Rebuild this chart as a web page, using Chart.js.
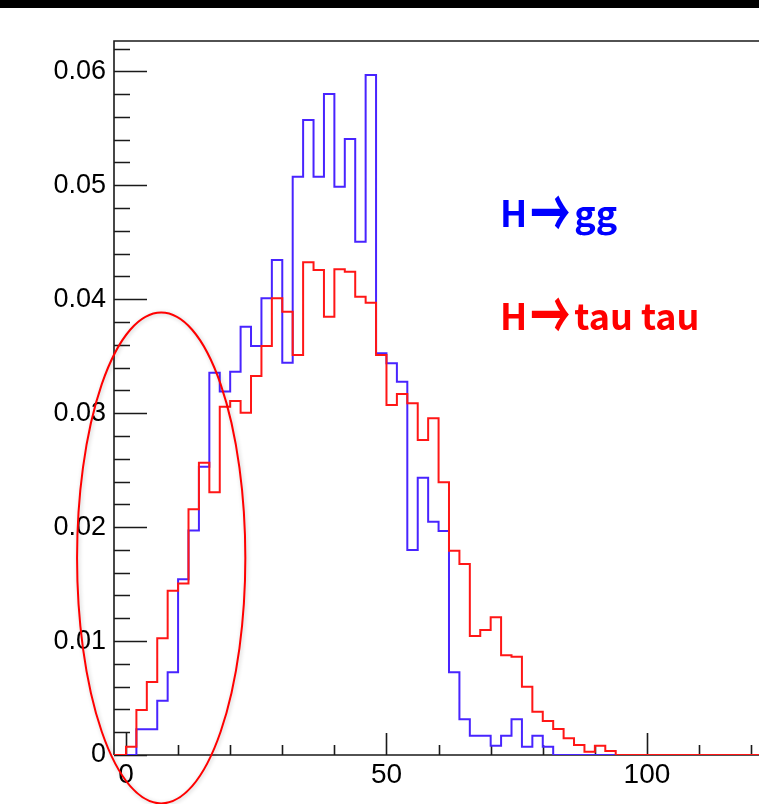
<!DOCTYPE html>
<html>
<head>
<meta charset="utf-8">
<script src="https://cdn.jsdelivr.net/npm/chart.js@4/dist/chart.umd.min.js"></script>
<style>
  html, body { margin: 0; padding: 0; background: #fff; overflow: hidden; width: 759px; height: 804px; }
  #wrap { position: relative; width: 780px; height: 804px; }
</style>
</head>
<body>
<div id="wrap"><canvas id="c" width="780" height="804"></canvas></div>
<script>
// Histogram bins (lower edges), width 2
const binLow = [0, 2, 4, 6, 8, 10, 12, 14, 16, 18, 20, 22, 24, 26, 28, 30, 32, 34, 36, 38,
                40, 42, 44, 46, 48, 50, 52, 54, 56, 58, 60, 62, 64, 66, 68, 70, 72, 74, 76, 78,
                80, 82, 84, 86, 88, 90, 92, 94];
const binWidth = 2;

// Normalised contents, H -> gg
const hGG = [0, 0.00225, 0.00225, 0.00477, 0.00726, 0.01542, 0.0197, 0.0253, 0.03355, 0.0319,
             0.03364, 0.03758, 0.03589, 0.04008, 0.04344, 0.03442, 0.05075, 0.05573, 0.05075, 0.05801,
             0.04987, 0.05406, 0.04505, 0.05968, 0.03525, 0.03437, 0.03276, 0.01799, 0.02434, 0.02047,
             0.01966, 0.00726, 0.00313, 0.0017, 0.0017, 0.00082, 0.0017, 0.00313, 0.00073, 0.0017,
             0.00073, 0, 0, 0, 0, 0, 0, 0];

// Normalised contents, H -> tau tau
const hTauTau = [0.00073, 0.00395, 0.0064, 0.01024, 0.01442, 0.01506, 0.02157, 0.02565, 0.02305, 0.03056,
                 0.03107, 0.03004, 0.03326, 0.03589, 0.04008, 0.0389, 0.0351, 0.04324, 0.04256, 0.03846,
                 0.04262, 0.04241, 0.04022, 0.03969, 0.0351, 0.03072, 0.03168, 0.03086, 0.02764, 0.02955,
                 0.02393, 0.01793, 0.01676, 0.01044, 0.01097, 0.01208, 0.00875, 0.00863, 0.006, 0.0038,
                 0.00298, 0.00228, 0.00146, 0.00088, 0.00029, 0.00082, 0.00035, 0];

const seriesNames = ['H\u2192gg', 'H\u2192tau tau'];

const xTickValues = [0, 50, 100];
const xTickLabels = ['0', '50', '100'];
const yTickValues = [0, 0.01, 0.02, 0.03, 0.04, 0.05, 0.06];
const yTickLabels = ['0', '0.01', '0.02', '0.03', '0.04', '0.05', '0.06'];

// axis ranges
const X_MIN = -2.3, X_MAX = 124.0;
const Y_MIN = 0, Y_MAX = 0.06266;

// Build step-histogram points: left edge of each bin, closed at both ends with empty range
function histPoints(values) {
  const pts = [{ x: X_MIN - 5, y: 0 }];
  binLow.forEach((lo, i) => pts.push({ x: lo, y: values[i] }));
  const end = binLow[binLow.length - 1] + binWidth;
  pts.push({ x: end, y: 0 });
  pts.push({ x: X_MAX + 10, y: 0 });
  return pts;
}

const TEXT_FONT = 'bold 36px "Noto Sans CJK JP"';
const ARROW_FONT = 'bold 40px "Noto Sans CJK JP"';
const ARROW_STRETCH = 1.75;  // taller arrow head
const ARROW_RISE = 15;       // arrow centre above the baseline

// Draw a label, giving the arrow glyph its own heavier shape
function drawLabel(ctx, text, x, y) {
  let cx = x;
  const parts = text.split(/(\u2192)/).filter(s => s.length);
  parts.forEach(p => {
    if (p === '\u2192') {
      ctx.font = ARROW_FONT;
      const m = ctx.measureText(p);
      const mid = (m.actualBoundingBoxAscent - m.actualBoundingBoxDescent) / 2;
      const inkL = -m.actualBoundingBoxLeft, inkR = m.actualBoundingBoxRight;
      cx += 4;
      ctx.save();
      ctx.translate(cx - inkL, y - ARROW_RISE);
      ctx.scale(1, ARROW_STRETCH);
      ctx.fillText(p, 0, mid);
      ctx.restore();
      cx += (inkR - inkL) + 5;
    } else {
      ctx.font = TEXT_FONT;
      ctx.fillText(p, cx, y);
      cx += ctx.measureText(p).width;
    }
  });
}

// ROOT-style frame with inward tick marks
const framePlugin = {
  id: 'rootFrame',
  beforeDraw(chart) {
    const { ctx } = chart;
    ctx.save();
    ctx.fillStyle = '#ffffff';
    ctx.fillRect(0, 0, chart.width, chart.height);
    ctx.fillStyle = '#000000';
    ctx.fillRect(0, 0, chart.width, 8);
    ctx.restore();
  },
  beforeDatasetsDraw(chart) {
    const { ctx, chartArea: a, scales } = chart;
    const xs = scales.x, ys = scales.y;
    ctx.save();
    ctx.strokeStyle = '#1a1a1a';
    ctx.lineWidth = 1.6;
    ctx.beginPath();
    ctx.moveTo(a.left, a.bottom);
    ctx.lineTo(a.left, a.top);
    ctx.lineTo(a.right, a.top);
    ctx.lineTo(a.right, a.bottom);
    ctx.moveTo(a.left, a.bottom);
    ctx.lineTo(a.right, a.bottom);
    // y ticks: major every 0.01, minor every 0.002
    for (let k = 0; k <= 31; k++) {
      const v = k * 0.002;
      if (v > Y_MAX) break;
      const py = Math.round(ys.getPixelForValue(v)) + 0.5;
      const len = (k % 5 === 0) ? 33 : 16;
      ctx.moveTo(a.left, py);
      ctx.lineTo(a.left + len, py);
    }
    // x ticks: major every 50, minor every 10
    for (let k = 0; k * 10 <= X_MAX; k++) {
      const v = k * 10;
      const px = Math.round(xs.getPixelForValue(v)) + 0.5;
      const len = (k % 5 === 0) ? 22 : 10;
      ctx.moveTo(px, a.bottom);
      ctx.lineTo(px, a.bottom - len);
    }
    ctx.stroke();
    ctx.restore();
  },
  afterDraw(chart, args, opts) {
    const { ctx, scales } = chart;
    const xs = scales.x, ys = scales.y;
    ctx.save();
    // highlight ellipse
    const e = opts.ellipse;
    const cx = xs.getPixelForValue(e.x), cy = ys.getPixelForValue(e.y);
    const rx = xs.getPixelForValue(e.x + e.rx) - cx;
    const ry = cy - ys.getPixelForValue(e.y + e.ry);
    ctx.shadowColor = 'rgba(0,0,0,0.22)';
    ctx.shadowBlur = 4;
    ctx.shadowOffsetX = 1;
    ctx.shadowOffsetY = 1;
    ctx.strokeStyle = '#ff0000';
    ctx.lineWidth = 2;
    ctx.beginPath();
    ctx.ellipse(cx, cy, rx, ry, 0, 0, Math.PI * 2);
    ctx.stroke();
    ctx.shadowColor = 'transparent';
    // series labels
    ctx.textAlign = 'left';
    ctx.textBaseline = 'alphabetic';
    opts.labels.forEach(l => {
      ctx.fillStyle = l.color;
      drawLabel(ctx, l.text, xs.getPixelForValue(l.x), ys.getPixelForValue(l.y));
    });
    ctx.restore();
  }
};

const chart = new Chart(document.getElementById('c'), {
  type: 'line',
  data: {
    datasets: [
      {
        label: seriesNames[0],
        data: histPoints(hGG),
        stepped: 'before',
        borderColor: 'rgb(72,36,255)',
        borderWidth: 2,
        pointRadius: 0,
        fill: false,
        order: 1
      },
      {
        label: seriesNames[1],
        data: histPoints(hTauTau),
        stepped: 'before',
        borderColor: 'rgb(255,22,22)',
        borderWidth: 2,
        pointRadius: 0,
        fill: false,
        order: 0
      }
    ]
  },
  options: {
    responsive: false,
    animation: false,
    devicePixelRatio: 1,
    layout: { padding: { top: 41, right: 8, left: 0, bottom: 0 } },
    plugins: {
      legend: { display: false },
      tooltip: { enabled: false },
      rootFrame: {
        ellipse: { x: 6.76, y: 0.01729, rx: 16.15, ry: 0.02154 },
        labels: [
          { text: seriesNames[0], x: 71.8, y: 0.0463, color: '#0000ff' },
          { text: seriesNames[1], x: 71.8, y: 0.0373, color: '#ff0000' }
        ]
      }
    },
    scales: {
      x: {
        type: 'linear',
        min: X_MIN,
        max: X_MAX,
        grid: { display: false, drawTicks: false },
        border: { display: false },
        afterFit(s) { s.height = 49; },
        afterBuildTicks(s) { s.ticks = xTickValues.map(v => ({ value: v })); },
        ticks: {
          padding: 3,
          color: '#000',
          font: { family: '"Liberation Sans", Arial, sans-serif', size: 28 },
          callback: (v) => xTickLabels[xTickValues.indexOf(v)]
        }
      },
      y: {
        type: 'linear',
        min: Y_MIN,
        max: Y_MAX,
        grid: { display: false, drawTicks: false },
        border: { display: false },
        afterFit(s) { s.width = 114; },
        afterBuildTicks(s) { s.ticks = yTickValues.map(v => ({ value: v })); },
        ticks: {
          padding: 8,
          color: '#000',
          font: { family: '"Liberation Sans", Arial, sans-serif', size: 27 },
          callback: (v) => yTickLabels[yTickValues.indexOf(v)]
        }
      }
    }
  },
  plugins: [framePlugin]
});
</script>
</body>
</html>
